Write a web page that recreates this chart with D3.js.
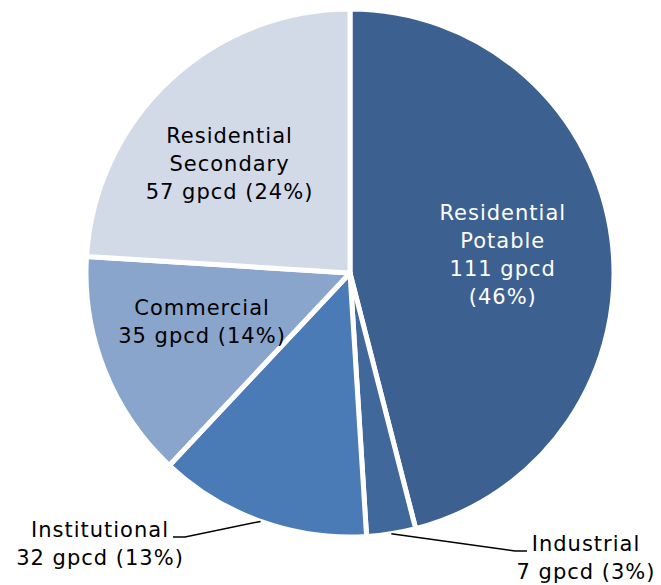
<!DOCTYPE html>
<html>
<head>
<meta charset="utf-8">
<script src="https://cdn.jsdelivr.net/npm/d3@7"></script>
<style>
  body { margin: 0; background: #fff; }
  text { font-family: Verdana, "DejaVu Sans", sans-serif; font-size: 21px; letter-spacing: 1px; }
</style>
</head>
<body>
<div id="chart"></div>
<script>
'use strict'

// data, clockwise from 12 o'clock
const categories = ['Residential Potable', 'Industrial', 'Institutional', 'Commercial', 'Residential Secondary'];
const gpcd = [111, 7, 32, 35, 57];
const percents = [46, 3, 13, 14, 24];
const labelLines = [
  ['Residential', 'Potable', '111 gpcd', '(46%)'],
  ['Industrial', '7 gpcd (3%)'],
  ['Institutional', '32 gpcd (13%)'],
  ['Commercial', '35 gpcd (14%)'],
  ['Residential', 'Secondary', '57 gpcd (24%)'],
];
const colors = ['#3c6190', '#40689b', '#4a7bb7', '#8aa5cb', '#d2d9e7'];

let width = 661;
let height = 585;
let cx = 350, cy = 273, radius = 264;

let svg = (
  d3.select('#chart')
    .append('svg')
    .attr('width', width)
    .attr('height', height));

let g = svg.append('g').attr('transform', `translate(${cx},${cy})`);

// slices are sized by the rounded shares
let pie = d3.pie().sort(null).value((d) => d);
let arcs = pie(percents);
let arc = d3.arc().innerRadius(0).outerRadius(radius);
let labelArc = d3.arc().innerRadius(157).outerRadius(157);

// Draw slices
(g.selectAll('path.slice')
    .data(arcs)
  .enter()
    .append('path')
      .attr('class', 'slice')
      .attr('d', arc)
      .attr('fill', (d, i) => colors[i])
      .attr('stroke', '#fff')
      .attr('stroke-width', 5)
      .attr('stroke-linejoin', 'round'));

// Inside labels, nudged from the centroid
let lh = 28;
let nudge = {0: [-3, 2], 3: [-2, -9], 4: [-13, 5]};
let inside = arcs.filter((d, i) => ![1, 2].includes(i));
(g.selectAll('text.inner')
    .data(inside)
  .enter()
    .append('text')
      .attr('class', 'inner')
      .attr('text-anchor', 'middle')
      .attr('fill', (d) => d.index == 0 ? '#fff' : '#000')
      .each(function (d) {
        let [x, y] = labelArc.centroid(d);
        x += nudge[d.index][0];
        y += nudge[d.index][1];
        let lines = labelLines[d.index];
        let y0 = y - (lines.length - 1) * lh / 2 + 7;
        lines.forEach((t, k) => {
          d3.select(this).append('tspan')
            .attr('x', x)
            .attr('y', y0 + k * lh)
            .text(t);
        });
      }));

// Outside labels with leader lines
let outer = [
  {i: 1, elbow: [165, 278], end: [177, 278], tx: 236},
  {i: 2, elbow: [-165, 264], end: [-177, 264], tx: -250},
];
let edgeArc = d3.arc().innerRadius(radius).outerRadius(radius);
outer.forEach((o) => {
  let d = arcs[o.i];
  let [ex, ey] = edgeArc.centroid(d);
  g.append('polyline')
    .attr('points', [[ex, ey], o.elbow, o.end].map((p) => p.join(',')).join(' '))
    .attr('fill', 'none')
    .attr('stroke', '#000')
    .attr('stroke-width', 1.5);
  let t = g.append('text')
    .attr('text-anchor', 'middle')
    .attr('fill', '#000');
  labelLines[o.i].forEach((s, k) => {
    t.append('tspan')
      .attr('x', o.tx)
      .attr('y', o.end[1] + k * lh)
      .text(s);
  });
});
</script>
</body>
</html>
